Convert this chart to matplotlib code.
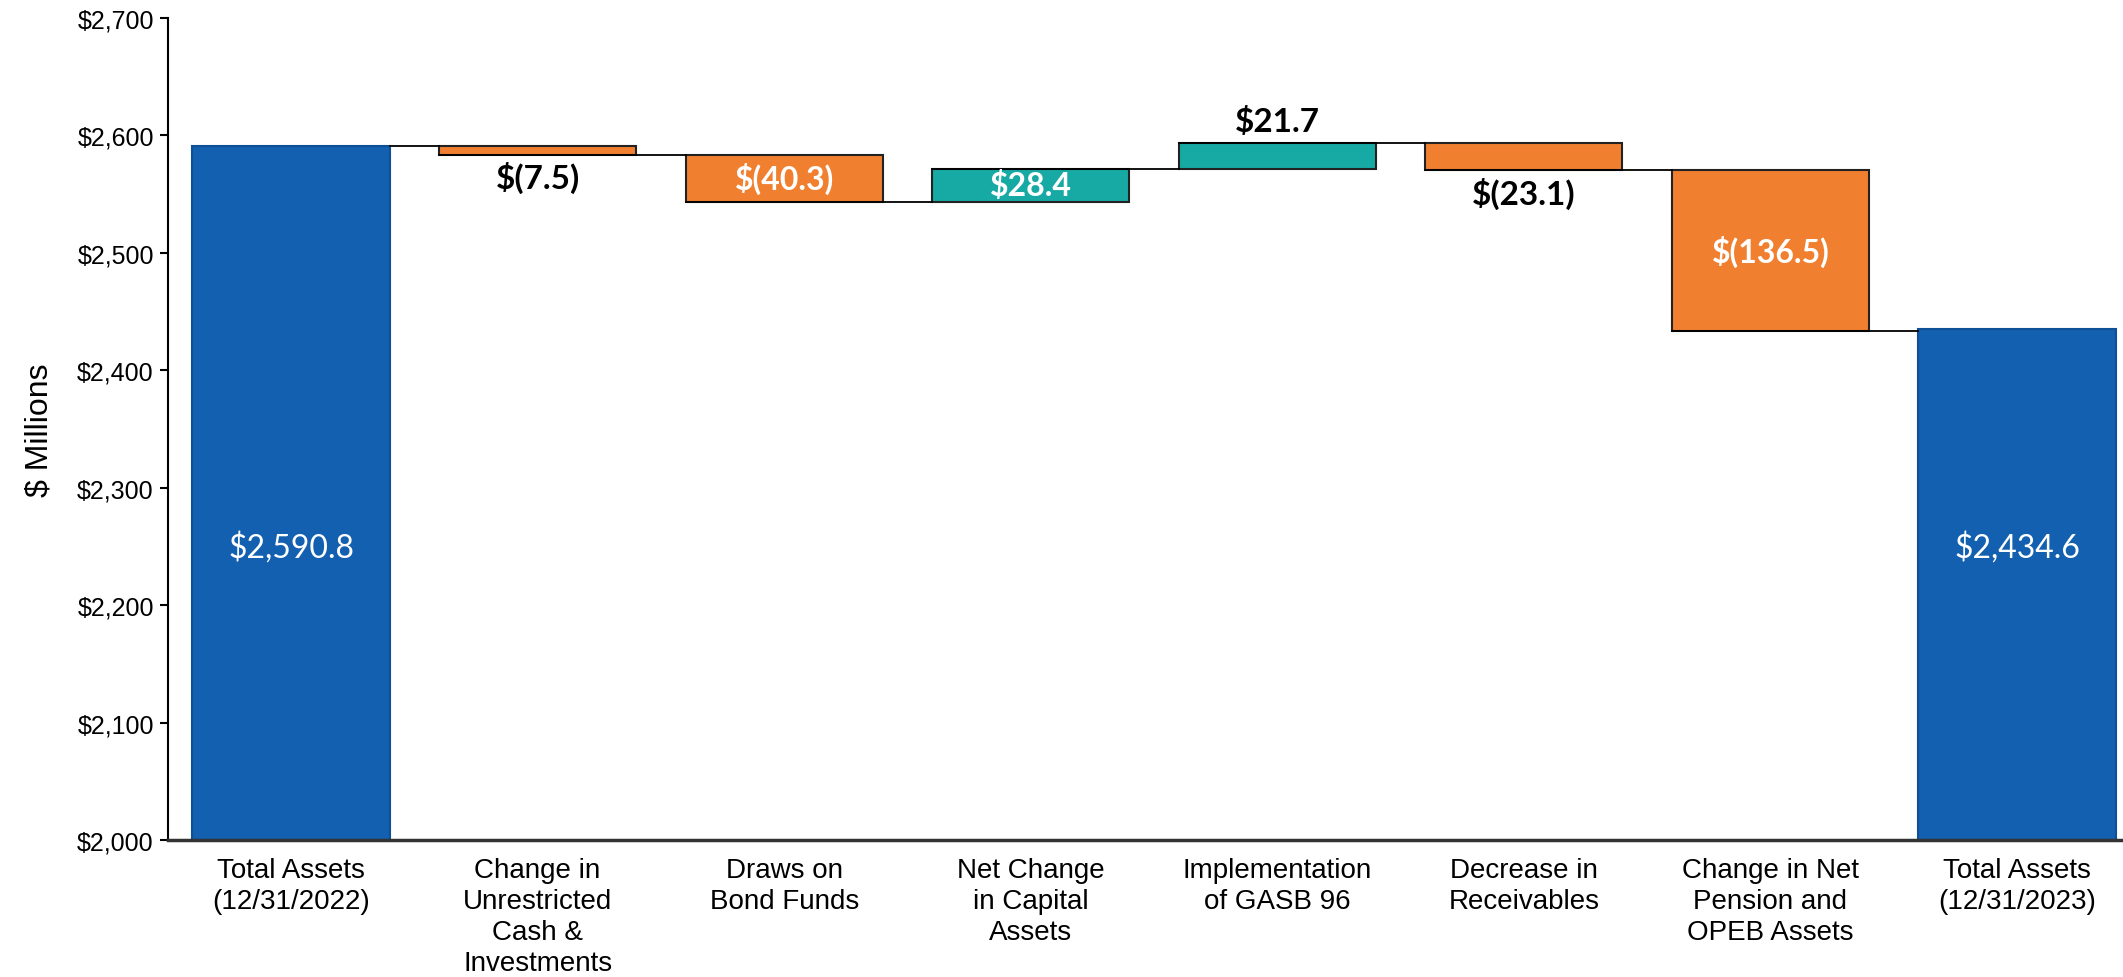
import matplotlib.pyplot as plt
import numpy as np

categories = ['Total Assets\n(12/31/2022)', 'Change in\nUnrestricted\nCash &\nInvestments',
              'Draws on\nBond Funds', 'Net Change\nin Capital\nAssets', 'Implementation\nof GASB 96',
              'Decrease in\nReceivables', 'Change in Net\nPension and\nOPEB Assets', 'Total Assets\n(12/31/2023)']
start_total = 2590.8
changes = [-7.5, -40.3, 28.4, 21.7, -23.1, -136.5]
end_total = 2434.6
labels = ['$2,590.8', '$(7.5)', '$(40.3)', '$28.4', '$21.7', '$(23.1)', '$(136.5)', '$2,434.6']
# where each value label goes: inside / above / below
label_pos = ['inside', 'below', 'inside', 'inside', 'above', 'below', 'inside', 'inside']

BLUE = '#135fb0'
ORANGE = '#f0802f'
TEAL = '#17aaa5'

plt.rcParams['font.family'] = ['Liberation Sans', 'DejaVu Sans']
value_font = ['Lato', 'DejaVu Sans']

fig = plt.figure(figsize=(21.23, 9.78), dpi=100)
ax = fig.add_axes([0.079, 0.14, 0.921, 0.841])

ymin = 2000
x = np.arange(len(categories))
width = 0.8

# running totals
bottoms = []
heights = []
colors = []
level = start_total
bottoms.append(ymin); heights.append(start_total - ymin); colors.append(BLUE)
levels = [start_total]
for c in changes:
    new = level + c
    bottoms.append(min(level, new))
    heights.append(abs(c))
    colors.append(TEAL if c > 0 else ORANGE)
    level = new
    levels.append(level)
bottoms.append(ymin); heights.append(end_total - ymin); colors.append(BLUE)

for i in range(len(categories)):
    edge = '#0f4f95' if colors[i] == BLUE else '#222222'
    ax.bar(x[i], heights[i], width, bottom=bottoms[i], color=colors[i],
           edgecolor=edge, linewidth=1.5, zorder=2)

# connector lines between bars
for i in range(len(levels)):
    ax.plot([x[i] - width / 2 if i > 0 else x[i] + width / 2, x[i + 1] - width / 2],
            [levels[i], levels[i]], color='black', lw=1.3, zorder=3)

# value labels
for i in range(len(categories)):
    top = bottoms[i] + heights[i]
    if label_pos[i] == 'inside':
        if i in (0, 7):
            ax.text(x[i], 2250, labels[i], ha='center', va='center', color='white',
                    fontsize=23, family=value_font)
        else:
            ax.text(x[i], bottoms[i] + heights[i] / 2, labels[i], ha='center', va='center',
                    color='white', fontsize=23, family=value_font, fontweight='bold')
    elif label_pos[i] == 'above':
        ax.text(x[i], top + 19, labels[i], ha='center', va='center', color='black',
                fontsize=24, family=value_font, fontweight='bold')
    else:
        ax.text(x[i], bottoms[i] - 19, labels[i], ha='center', va='center', color='black',
                fontsize=24, family=value_font, fontweight='bold')

ax.set_xlim(-0.5, 7.43)
ax.set_ylim(ymin, 2700)
ax.set_yticks(np.arange(2000, 2701, 100))
ax.set_yticklabels(['${:,.0f}'.format(v) for v in np.arange(2000, 2701, 100)], fontsize=18)
ax.set_xticks(x)
ax.set_xticklabels(categories, fontsize=20, linespacing=1.25, va='top')
ax.tick_params(axis='x', length=0, pad=12)
ax.tick_params(axis='y', length=6, width=1.5, pad=4)
ax.set_ylabel('$ Millions', fontsize=23, labelpad=16)

ax.spines['top'].set_visible(False)
ax.spines['right'].set_visible(False)
ax.spines['left'].set_linewidth(1.5)
ax.spines['bottom'].set_linewidth(2.5)
ax.spines['bottom'].set_color('#333333')
ax.spines['bottom'].set_zorder(4)

fig.savefig('out.png', dpi=100)
